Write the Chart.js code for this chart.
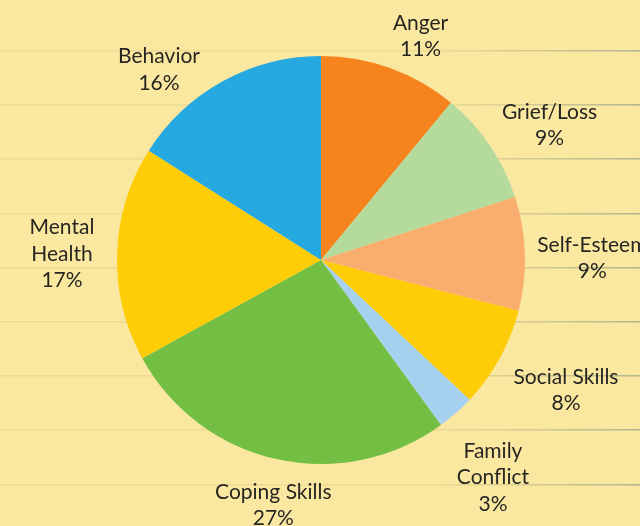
<!DOCTYPE html>
<html>
<head>
<meta charset="utf-8">
<script src="https://cdn.jsdelivr.net/npm/chart.js@4"></script>
<style>
  html, body { margin: 0; padding: 0; background: #fbe8a0; }
  #wrap { width: 640px; height: 526px; position: relative; }
</style>
</head>
<body>
<div id="wrap"><canvas id="pie"></canvas></div>
<script>
// data, clockwise from the top
const topics = ['Anger', 'Grief/Loss', 'Self-Esteem', 'Social Skills', ['Family', 'Conflict'], 'Coping Skills', ['Mental', 'Health'], 'Behavior'];
const shares = [11, 9, 9, 8, 3, 27, 17, 16];
const sliceColors = ['#f5841f', '#b5db9c', '#f9ad6e', '#ffcc08', '#a6d2f0', '#72bf44', '#ffcc08', '#25a9e0'];

// where each label sits: [distance as share of radius, angle nudge in degrees]
const labelPlacement = [
  [1.2, 4.2], [1.3, 3.7], [1.33, 1.4], [1.36, -0.8],
  [1.36, 3.1], [1.225, -1.6], [1.27, -0.5], [1.225, -11.6]
];

const paperBackground = {
  id: 'paperBackground',
  beforeDraw(chart) {
    const { ctx, width, height } = chart;
    ctx.save();
    ctx.fillStyle = '#fbe8a0';
    ctx.fillRect(0, 0, width, height);

    const fade = ctx.createLinearGradient(440, 0, width, 0);
    fade.addColorStop(0, 'rgba(120,140,135,0)');
    fade.addColorStop(1, 'rgba(110,135,135,0.45)');

    for (let y = 50; y < height; y += 54.2) {
      ctx.fillStyle = 'rgba(220,205,135,0.5)';
      ctx.fillRect(0, Math.round(y), width, 1.5);
      ctx.fillStyle = fade;
      ctx.fillRect(0, Math.round(y), width, 1.5);
    }
    ctx.restore();
  }
};

const sliceLabels = {
  id: 'sliceLabels',
  afterDatasetsDraw(chart) {
    const { ctx } = chart;
    const arcs = chart.getDatasetMeta(0).data;
    ctx.save();
    ctx.fillStyle = '#262522';
    ctx.font = '21px Lato, "Open Sans", sans-serif';
    ctx.textAlign = 'center';
    ctx.textBaseline = 'middle';

    arcs.forEach((arc, i) => {
      const { x, y, startAngle, endAngle, outerRadius } = arc.getProps(['x', 'y', 'startAngle', 'endAngle', 'outerRadius'], true);
      const [dist, nudge] = labelPlacement[i];
      const mid = (startAngle + endAngle) / 2 + nudge * Math.PI / 180;
      const cx = x + Math.cos(mid) * outerRadius * dist;
      const cy = y + Math.sin(mid) * outerRadius * dist;

      const name = Array.isArray(topics[i]) ? topics[i] : [topics[i]];
      const lines = [...name, `${shares[i]}%`];
      const step = 26.5;
      const top = cy - (lines.length - 1) * step / 2;
      lines.forEach((line, k) => ctx.fillText(line, cx, top + k * step));
    });
    ctx.restore();
  }
};

new Chart(document.getElementById('pie'), {
  type: 'pie',
  data: {
    labels: topics,
    datasets: [{
      data: shares,
      backgroundColor: sliceColors,
      borderWidth: 0
    }]
  },
  options: {
    responsive: true,
    maintainAspectRatio: false,
    animation: false,
    layout: { padding: { top: 56, bottom: 62, left: 2, right: 0 } },
    plugins: {
      legend: { display: false },
      tooltip: { enabled: false }
    }
  },
  plugins: [paperBackground, sliceLabels]
});
</script>
</body>
</html>
